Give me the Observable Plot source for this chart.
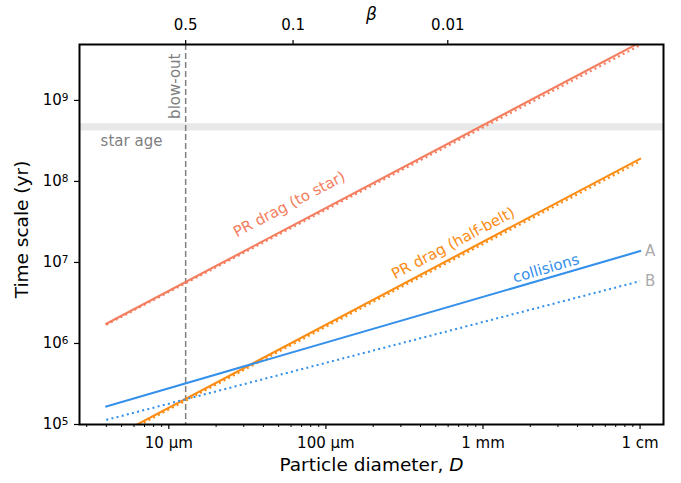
<!DOCTYPE html>
<html><head><meta charset="utf-8">
<script src="https://cdn.jsdelivr.net/npm/d3@7"></script>
<script src="https://cdn.jsdelivr.net/npm/@observablehq/plot@0.6"></script>
<style>body{margin:0;background:#fff;} svg{display:block}</style>
</head><body><div id="chart"></div>
<script>
// Particle diameters (µm) at which the curves start and end
const diameterEnds = [4, 10000];
// Time scales (yr) at those diameters
const prStarSolid = [1.75e6, 5.2e9];
const prStarDotted = [1.70e6, 4.8e9];
const prHalfSolid = [6.3e4, 1.9e8];
const prHalfDotted = [6.0e4, 1.77e8];
const collisionsA = [1.67e5, 1.38e7];
const collisionsB = [1.14e5, 5.87e6];
const starAge = [4.2e8, 5.15e8];
const blowOutD = 12.8;
// ticks
const xTicks = [10, 100, 1000, 10000];
const xTickLabels = ["10 µm", "100 µm", "1 mm", "1 cm"];
const xDecades = [1, 10, 100, 1000];
const xMinorMult = [2, 3, 4, 5, 6, 7, 8, 9];
const yTicks = [1e5, 1e6, 1e7, 1e8, 1e9];
const yExponents = ["5", "6", "7", "8", "9"];
const betaDiameters = [12.8, 61.8, 597];
const betaLabels = ["0.5", "0.1", "0.01"];

const xDomain = [2.7, 14100];
const yDomain = [1e5, 4.9e9];
const xMinor = xDecades.flatMap(d => xMinorMult.map(m => d * m)).filter(v => v > xDomain[0] && v < xDomain[1]);

const C = {star: "#f47e5f", half: "#fb8c14", coll: "#3490ea", grey: "#7f7f7f", light: "#aaaaaa"};
const pts = (vals) => diameterEnds.map((D, i) => ({D, t: vals[i]}));
const FONT = "DejaVu Sans";

const lineMarks = [
  [prStarSolid, C.star, false], [prStarDotted, C.star, true],
  [prHalfSolid, C.half, false], [prHalfDotted, C.half, true],
  [collisionsA, C.coll, false], [collisionsB, C.coll, true]
].map(([vals, color, dotted]) => Plot.line(pts(vals), {
  x: "D", y: "t", stroke: color, strokeWidth: 2.1, clip: true,
  strokeDasharray: dotted ? "2,3.3" : null, strokeLinecap: dotted ? "butt" : "square"
}));

const plot = Plot.plot({
  width: 681, height: 483,
  marginLeft: 79, marginRight: 18, marginTop: 44, marginBottom: 59,
  style: {fontFamily: FONT, fontSize: "15px", background: "white", color: "black"},
  x: {type: "log", domain: xDomain},
  y: {type: "log", domain: yDomain},
  marks: [
    Plot.rect([starAge], {y1: d => d[0], y2: d => d[1], fill: "#e8e8e8"}),
    Plot.ruleX([blowOutD], {stroke: C.grey, strokeWidth: 1.5, strokeDasharray: "6,3"}),
    ...lineMarks,
    Plot.text(["PR drag (to star)"], {x: 58.5, y: 5.2e7, text: d => d, rotate: -27.7, fill: C.star, fontSize: 15}),
    Plot.text(["PR drag (half-belt)"], {x: 646, y: 1.72e7, text: d => d, rotate: -27.8, fill: C.half, fontSize: 15}),
    Plot.text(["collisions"], {x: 2518, y: 8.4e6, text: d => d, rotate: -16.2, fill: C.coll, fontSize: 15}),
    Plot.text(["A"], {x: diameterEnds[1], y: collisionsA[1], text: d => d, dx: 5, textAnchor: "start", fill: C.light, fontSize: 15}),
    Plot.text(["B"], {x: diameterEnds[1], y: collisionsB[1], text: d => d, dx: 5, textAnchor: "start", fill: C.light, fontSize: 15}),
    Plot.text(["star age"], {x: 3.68, y: 3.15e8, text: d => d, textAnchor: "start", fill: C.grey, fontSize: 15}),
    Plot.text(["blow-out"], {x: blowOutD, frameAnchor: "top", text: d => d, dy: 9, dx: -10, rotate: -90, textAnchor: "end", lineAnchor: "middle", fill: C.grey, fontSize: 15}),
    Plot.axisX({ticks: xTicks, tickFormat: d => xTickLabels[xTicks.indexOf(d)], tickSize: 5, tickPadding: 8, strokeWidth: 1.2, label: null, fontSize: 15}),
    Plot.axisX({ticks: xMinor, tickFormat: () => "", tickSize: 3, strokeWidth: 1, label: null}),
    Plot.axisX({anchor: "top", ticks: betaDiameters, tickFormat: () => "", tickSize: 5, strokeWidth: 1.2, label: null}),
    Plot.text(betaDiameters, {x: d => d, frameAnchor: "top", text: (d, i) => betaLabels[i], dy: -19, lineAnchor: "middle", fontSize: 15}),
    Plot.axisY({ticks: yTicks, tickFormat: d => "10^" + yExponents[yTicks.indexOf(d)], tickSize: 5, tickPadding: 6, strokeWidth: 1.2, label: null, fontSize: 15}),
    Plot.text(["Time scale (yr)"], {frameAnchor: "left", text: d => d, dx: -57, dy: -5, rotate: -90, textAnchor: "middle", lineAnchor: "middle", fontSize: 18.5}),
    Plot.text(["Particle diameter, D"], {frameAnchor: "bottom", text: d => d, dy: 41, lineAnchor: "middle", fontSize: 18.5}),
    Plot.text(["β"], {frameAnchor: "top", text: d => d, dy: -30, lineAnchor: "middle", fontSize: 17, fontStyle: "italic"}),
    Plot.frame({stroke: "black", strokeWidth: 2})
  ]
});
d3.select(plot).selectAll("text").each(function() {
  const s = this.textContent;
  if (s === "Particle diameter, D") {
    this.innerHTML = 'Particle diameter, <tspan font-style="italic">D</tspan>';
  } else if (/^10\^\d$/.test(s)) {
    this.innerHTML = '10<tspan dy="-0.42em" font-size="0.7em">' + s.slice(3) + '</tspan>';
  }
});
document.getElementById("chart").appendChild(plot);
</script>
</body></html>
